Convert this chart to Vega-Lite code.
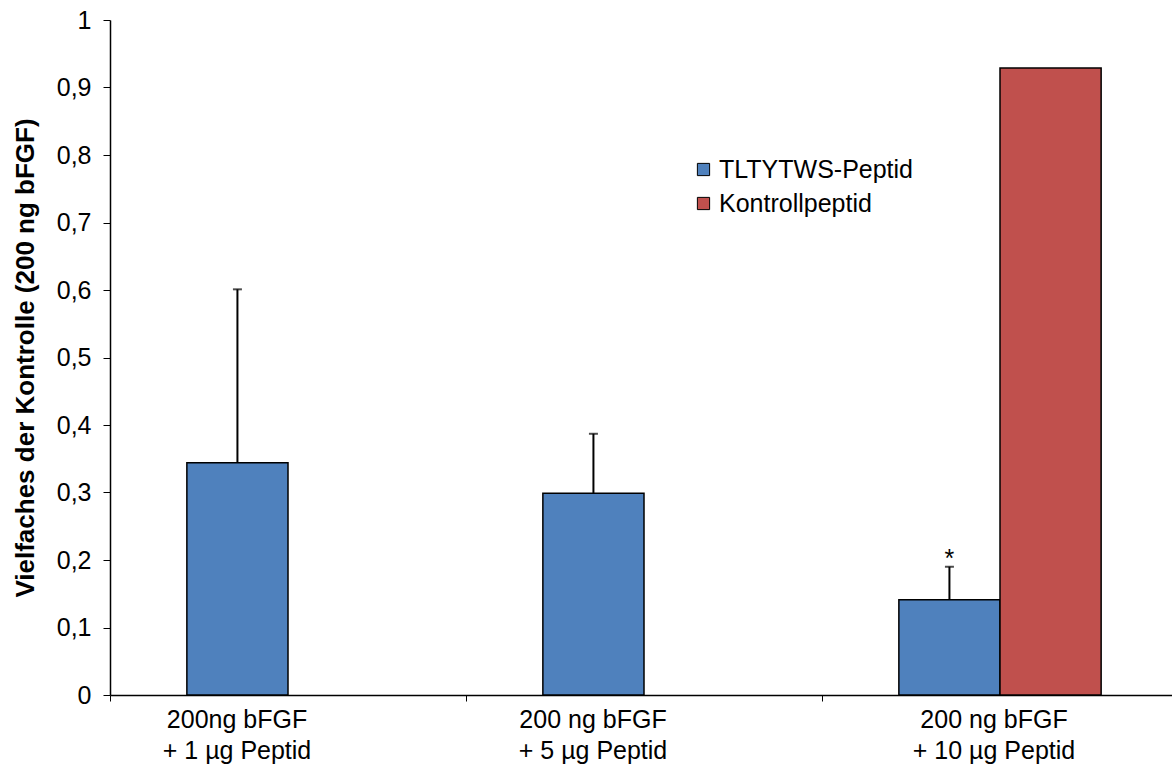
{
  "$schema": "https://vega.github.io/schema/vega-lite/v6.json",
  "width": 1062,
  "height": 675,
  "autosize": {"type": "none"},
  "padding": {"left": 110, "top": 20, "right": 0, "bottom": 72},
  "background": "white",
  "config": {
    "font": "Liberation Sans",
    "view": {"stroke": null}
  },
  "data": {
    "values": [
      {"group": "200ng bFGF|+ 1 µg Peptid", "series": "TLTYTWS-Peptid", "value": 0.344, "err": 0.601, "star": ""},
      {"group": "200 ng bFGF|+ 5 µg Peptid", "series": "TLTYTWS-Peptid", "value": 0.299, "err": 0.387, "star": ""},
      {"group": "200 ng bFGF|+ 10 µg Peptid", "series": "TLTYTWS-Peptid", "value": 0.141, "err": 0.19, "star": "*"},
      {"group": "200 ng bFGF|+ 10 µg Peptid", "series": "Kontrollpeptid", "value": 0.929, "err": null, "star": ""}
    ]
  },
  "encoding": {
    "x": {
      "field": "group",
      "type": "nominal",
      "sort": null,
      "scale": {"paddingInner": 0, "paddingOuter": 0, "range": [0, 1068]},
      "axis": {
        "title": null,
        "labels": false,
        "tickBand": "extent",
        "tickSize": 6,
        "tickColor": "black",
        "domainColor": "black",
        "domainWidth": 1.5
      }
    }
  },
  "layer": [
    {
      "mark": {"type": "bar", "stroke": "black", "strokeWidth": 1.5},
      "encoding": {
        "xOffset": {
          "field": "series",
          "type": "nominal",
          "sort": ["TLTYTWS-Peptid", "Kontrollpeptid"],
          "scale": {"paddingInner": 0, "paddingOuter": 0.76}
        },
        "y": {
          "field": "value",
          "type": "quantitative",
          "scale": {"domain": [0, 1], "nice": false},
          "axis": {
            "title": "Vielfaches der Kontrolle (200 ng bFGF)",
            "titleFontSize": 26,
            "titleFontWeight": "bold",
            "titleColor": "black",
            "titleX": -72,
            "titleBaseline": "bottom",
            "values": [0, 0.1, 0.2, 0.3, 0.4, 0.5, 0.6, 0.7, 0.8, 0.9, 1],
            "labelExpr": "replace(format(datum.value, '.1~f'), '.', ',')",
            "labelFontSize": 25,
            "labelColor": "black",
            "labelPadding": 12,
            "tickSize": 7,
            "tickColor": "black",
            "domainColor": "black",
            "domainWidth": 1.5,
            "grid": false
          }
        },
        "color": {
          "field": "series",
          "type": "nominal",
          "sort": ["TLTYTWS-Peptid", "Kontrollpeptid"],
          "scale": {"domain": ["TLTYTWS-Peptid", "Kontrollpeptid"], "range": ["#4F81BD", "#C0504D"]},
          "legend": {
            "title": null,
            "orient": "none",
            "legendX": 581,
            "legendY": 137,
            "symbolType": "square",
            "symbolSize": 150,
            "symbolStrokeColor": "black",
            "symbolStrokeWidth": 1,
            "symbolOpacity": 1,
            "labelFontSize": 25,
            "labelColor": "black",
            "labelOffset": 3,
            "labelLimit": 400,
            "rowPadding": 8
          }
        }
      }
    },
    {
      "mark": {"type": "rule", "color": "black", "strokeWidth": 2},
      "transform": [{"filter": "datum.err != null"}],
      "encoding": {
        "xOffset": {"field": "series", "type": "nominal", "sort": ["TLTYTWS-Peptid", "Kontrollpeptid"]},
        "y": {"field": "value", "type": "quantitative"},
        "y2": {"field": "err"}
      }
    },
    {
      "mark": {"type": "tick", "color": "black", "thickness": 2, "size": 9, "orient": "horizontal"},
      "transform": [{"filter": "datum.err != null"}],
      "encoding": {
        "xOffset": {"field": "series", "type": "nominal", "sort": ["TLTYTWS-Peptid", "Kontrollpeptid"]},
        "y": {"field": "err", "type": "quantitative"}
      }
    },
    {
      "mark": {"type": "text", "fontSize": 25, "color": "black", "baseline": "middle", "dy": -8},
      "transform": [{"filter": "datum.star != ''"}],
      "encoding": {
        "xOffset": {"field": "series", "type": "nominal", "sort": ["TLTYTWS-Peptid", "Kontrollpeptid"]},
        "y": {"field": "err", "type": "quantitative"},
        "text": {"field": "star"}
      }
    },
    {
      "mark": {"type": "text", "fontSize": 25, "color": "black", "baseline": "top", "align": "center", "lineBreak": "|", "lineHeight": 31, "dy": 13, "dx": -51},
      "transform": [{"filter": "datum.series == 'TLTYTWS-Peptid' && datum.star == ''"}],
      "encoding": {
        "y": {"datum": 0, "type": "quantitative"},
        "text": {"field": "group"}
      }
    },
    {
      "mark": {"type": "text", "fontSize": 25, "color": "black", "baseline": "top", "align": "center", "lineBreak": "|", "lineHeight": 31, "dy": 13, "dx": -6},
      "transform": [{"filter": "datum.series == 'Kontrollpeptid'"}],
      "encoding": {
        "y": {"datum": 0, "type": "quantitative"},
        "text": {"field": "group"}
      }
    }
  ]
}
